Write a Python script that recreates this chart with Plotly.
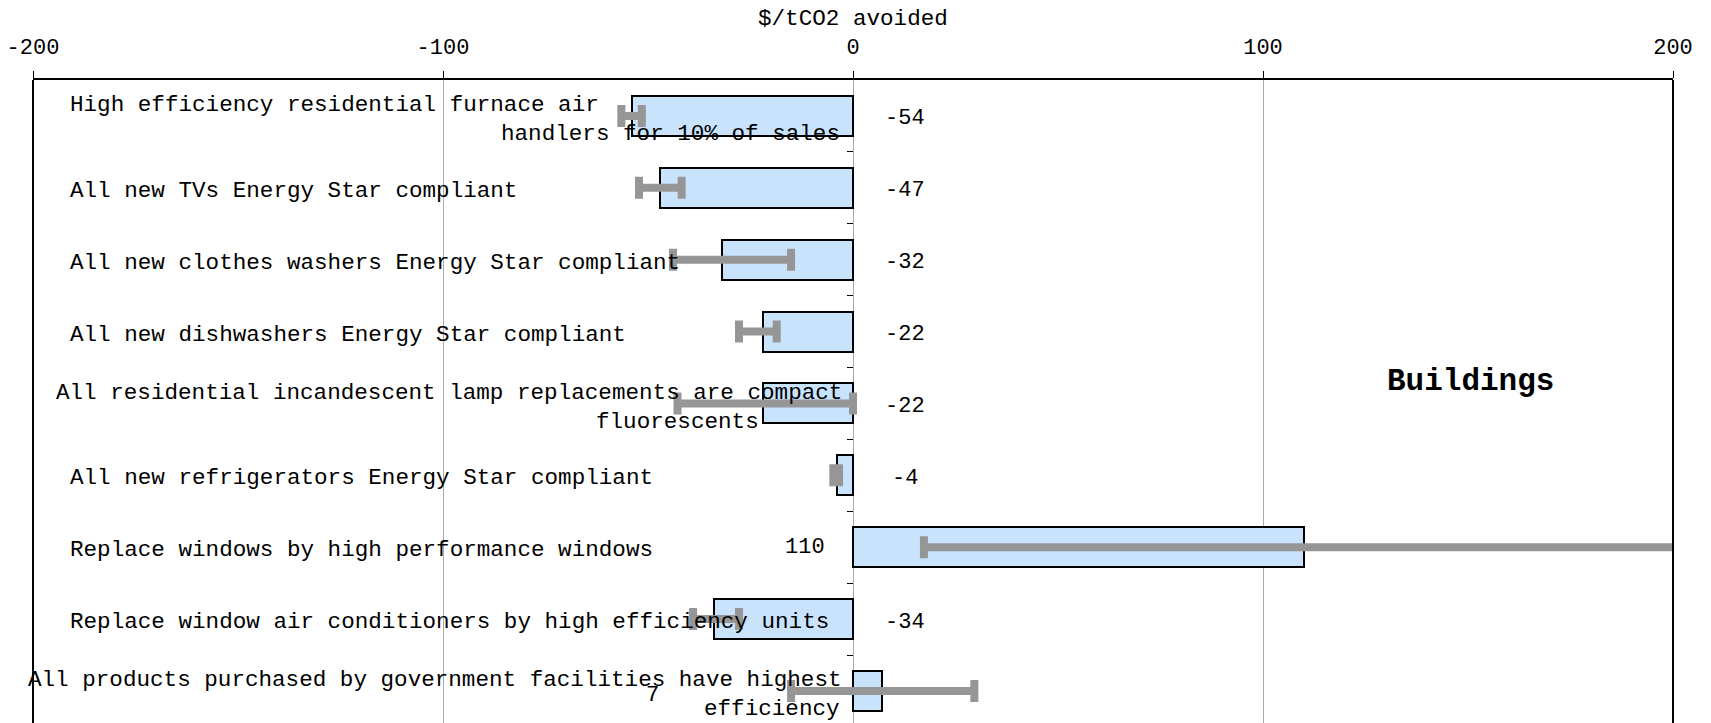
import plotly.graph_objects as go

# Measures (top to bottom) and their costs in $/tCO2 avoided
measures = [
    ["High efficiency residential furnace air", "handlers for 10% of sales"],
    ["All new TVs Energy Star compliant"],
    ["All new clothes washers Energy Star compliant"],
    ["All new dishwashers Energy Star compliant"],
    ["All residential incandescent lamp replacements are compact", "fluorescents"],
    ["All new refrigerators Energy Star compliant"],
    ["Replace windows by high performance windows"],
    ["Replace window air conditioners by high efficiency units"],
    ["All products purchased by government facilities have highest", "efficiency"],
]
cost = [-54, -47, -32, -22, -22, -4, 110, -34, 7]
cost_low = [-56.5, -52.2, -43.9, -27.8, -42.8, -4.8, 17.3, -39.0, -15.1]
cost_high = [-51.5, -41.8, -15.1, -18.6, 0.0, -3.4, 260.0, -27.8, 29.6]

x_ticks = [-200, -100, 0, 100, 200]
sector = "Buildings"

FONT = "Courier New, Liberation Mono, monospace"
LABEL_SIZE = 22.6
rows = list(range(len(cost)))

fig = go.Figure()
fig.add_trace(go.Bar(
    x=cost,
    y=rows,
    orientation="h",
    width=0.556,
    marker=dict(color="#C9E3FD", line=dict(color="black", width=2)),
    error_x=dict(
        type="data",
        symmetric=False,
        array=[h - v for h, v in zip(cost_high, cost)],
        arrayminus=[v - l for v, l in zip(cost, cost_low)],
        color="#969696",
        thickness=8,
        width=11,
    ),
    hoverinfo="skip",
    showlegend=False,
))

annotations = []

# Category text: first line starts at the left, a wrapped second line ends near the bars
# (x in axis units, plus a pixel nudge for text that starts left of the axis range)
first_line_x = {0: (-191.5, 0), 4: (-195.0, 0), 8: (-200.0, -7)}
second_line_x = {0: -2.6, 4: -22.5, 8: -2.6}
for i, lines in enumerate(measures):
    if len(lines) == 1:
        annotations.append(dict(
            x=-191.5, y=i, xref="x", yref="y", text=lines[0], showarrow=False,
            xanchor="left", yanchor="middle", yshift=-3,
            font=dict(family=FONT, size=LABEL_SIZE, color="black"),
        ))
    else:
        x1, nudge = first_line_x[i]
        annotations.append(dict(
            x=x1, xshift=nudge, y=i, xref="x", yref="y", text=lines[0], showarrow=False,
            xanchor="left", yanchor="middle", yshift=10.5,
            font=dict(family=FONT, size=LABEL_SIZE, color="black"),
        ))
        annotations.append(dict(
            x=second_line_x[i], y=i, xref="x", yref="y", text=lines[1], showarrow=False,
            xanchor="right", yanchor="middle", yshift=-18.5,
            font=dict(family=FONT, size=LABEL_SIZE, color="black"),
        ))

# Value labels: negatives sit right of the zero line, positives to its left
value_label_x = {6: -11.7, 8: -48.8}
for i, v in enumerate(cost):
    annotations.append(dict(
        x=value_label_x.get(i, 12.8), y=i, xref="x", yref="y", text=f"{v}", showarrow=False,
        xanchor="center", yanchor="middle", yshift=-5 if i == 8 else (0 if i == 6 else -3),
        font=dict(family=FONT, size=22, color="black"),
    ))

annotations.append(dict(
    x=150.7, y=3.69, xref="x", yref="y", text=f"<b>{sector}</b>", showarrow=False,
    xanchor="center", yanchor="middle", font=dict(family=FONT, size=31, color="black"),
))

annotations.append(dict(
    x=0.5, y=1, xref="paper", yref="paper", text="$/tCO2 avoided", showarrow=False,
    xanchor="center", yanchor="middle", yshift=61,
    font=dict(family=FONT, size=LABEL_SIZE, color="black"),
))

fig.update_layout(
    width=1711,
    height=723,
    margin=dict(l=33, r=38, t=80, b=0, pad=0),
    paper_bgcolor="white",
    plot_bgcolor="white",
    bargap=0,
    annotations=annotations,
    shapes=[
        dict(type="line", xref="paper", yref="paper", x0=0, x1=0, y0=0, y1=1,
             line=dict(color="black", width=2)),
        dict(type="line", xref="paper", yref="paper", x0=1, x1=1, y0=0, y1=1,
             line=dict(color="black", width=2)),
    ],
    xaxis=dict(
        side="top",
        range=[-200, 200],
        tickmode="array",
        tickvals=x_ticks,
        ticktext=[str(t) for t in x_ticks],
        ticks="outside",
        ticklen=7,
        tickwidth=1,
        tickcolor="black",
        ticklabelstandoff=8,
        tickfont=dict(family=FONT, size=22, color="black"),
        showgrid=True,
        gridcolor="#ABABAB",
        gridwidth=1,
        zeroline=True,
        zerolinecolor="#ABABAB",
        zerolinewidth=1,
        showline=True,
        linecolor="black",
        linewidth=2,
        mirror=False,
        fixedrange=True,
    ),
    yaxis=dict(
        range=[8.446, -0.5],
        anchor="free",
        position=0.5,
        tickmode="array",
        tickvals=[r + 0.5 for r in rows[:-1]],
        ticks="outside",
        ticklen=6,
        tickcolor="black",
        showticklabels=False,
        showgrid=False,
        zeroline=False,
        showline=False,
        fixedrange=True,
    ),
)

fig.write_html("out.html")
